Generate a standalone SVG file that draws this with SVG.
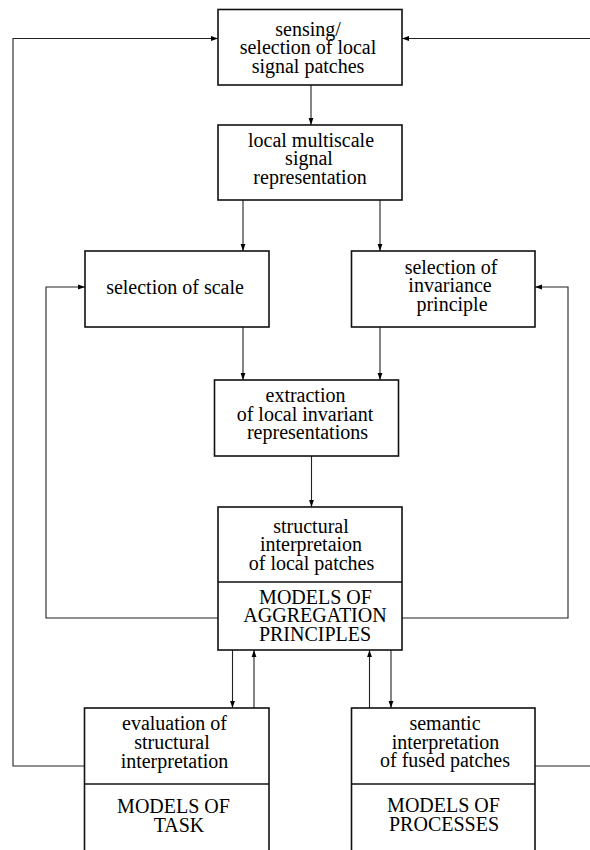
<svg xmlns="http://www.w3.org/2000/svg" width="590" height="850" viewBox="0 0 590 850">
<style>
  .box { fill: #fff; stroke: #111; stroke-width: 1.6; }
  .div { stroke: #111; stroke-width: 1.6; fill: none; }
  .c { fill: none; stroke: #222; stroke-width: 1.1; }
</style>
<defs>
  <marker id="ah" markerUnits="userSpaceOnUse" markerWidth="7" markerHeight="6" refX="7" refY="3" orient="auto">
    <path d="M0,0.6 L7,3 L0,5.4 z" fill="#000"/>
  </marker>
</defs>
<rect width="590" height="850" fill="#fff"/>
<g id="connectors">
  <path class="c" d="M84,766 H13 V38.5 H218" marker-end="url(#ah)"/>
  <path class="c" d="M535,766 H590"/>
  <path class="c" d="M590,38.5 H402" marker-end="url(#ah)"/>
  <path class="c" d="M311,85 V125" marker-end="url(#ah)"/>
  <path class="c" d="M243,200 V251" marker-end="url(#ah)"/>
  <path class="c" d="M380,200 V251" marker-end="url(#ah)"/>
  <path class="c" d="M243,327 V380" marker-end="url(#ah)"/>
  <path class="c" d="M380,327 V380" marker-end="url(#ah)"/>
  <path class="c" d="M311.5,456 V507" marker-end="url(#ah)"/>
  <path class="c" d="M218,618 H46 V287 H85" marker-end="url(#ah)"/>
  <path class="c" d="M402,618 H568 V287 H535" marker-end="url(#ah)"/>
  <path class="c" d="M232.5,650 V708" marker-end="url(#ah)"/>
  <path class="c" d="M254,708 V650" marker-end="url(#ah)"/>
  <path class="c" d="M369.5,708 V650" marker-end="url(#ah)"/>
  <path class="c" d="M391,650 V708" marker-end="url(#ah)"/>
</g>
<g text-anchor="middle" fill="#000">
<g id="sensing">
  <rect class="box" x="218" y="9.5" width="184" height="75.5"/>
  <text x="308" y="35.5" style="font-family:'Liberation Serif',serif;font-size:20px">sensing/</text>
  <text x="308" y="54" style="font-family:'Liberation Serif',serif;font-size:20px">selection of local</text>
  <text x="308" y="72.5" style="font-family:'Liberation Serif',serif;font-size:20px">signal patches</text>
</g>
<g id="multiscale">
  <rect class="box" x="218" y="125" width="184" height="75"/>
  <text x="311" y="146.5" style="font-family:'Liberation Serif',serif;font-size:20px">local multiscale</text>
  <text x="309" y="165" style="font-family:'Liberation Serif',serif;font-size:20px">signal</text>
  <text x="310" y="183.5" style="font-family:'Liberation Serif',serif;font-size:20px">representation</text>
</g>
<g id="scale">
  <rect class="box" x="85" y="251" width="184" height="76"/>
  <text x="175" y="294" style="font-family:'Liberation Serif',serif;font-size:20px">selection of scale</text>
</g>
<g id="invariance">
  <rect class="box" x="351.5" y="251" width="183.5" height="76"/>
  <text x="451" y="273.5" style="font-family:'Liberation Serif',serif;font-size:20px">selection of</text>
  <text x="450" y="292" style="font-family:'Liberation Serif',serif;font-size:20px">invariance</text>
  <text x="452" y="310.5" style="font-family:'Liberation Serif',serif;font-size:20px">principle</text>
</g>
<g id="extraction">
  <rect class="box" x="214.5" y="380" width="184" height="76"/>
  <text x="305.5" y="401.5" style="font-family:'Liberation Serif',serif;font-size:20px">extraction</text>
  <text x="305" y="420.5" style="font-family:'Liberation Serif',serif;font-size:20px">of local invariant</text>
  <text x="307.5" y="439" style="font-family:'Liberation Serif',serif;font-size:20px">representations</text>
</g>
<g id="structural">
  <rect class="box" x="218" y="507" width="184" height="143"/>
  <line class="div" x1="218" y1="582" x2="402" y2="582"/>
  <text x="311" y="532.5" style="font-family:'Liberation Serif',serif;font-size:20px">structural</text>
  <text x="311" y="551" style="font-family:'Liberation Serif',serif;font-size:20px">interpretaion</text>
  <text x="311.5" y="569.5" style="font-family:'Liberation Serif',serif;font-size:20px">of local patches</text>
  <text x="315.5" y="603.5" style="font-family:'Liberation Serif',serif;font-size:20px">MODELS OF</text>
  <text x="315" y="622" style="font-family:'Liberation Serif',serif;font-size:20px">AGGREGATION</text>
  <text x="315" y="640.5" style="font-family:'Liberation Serif',serif;font-size:20px">PRINCIPLES</text>
</g>
<g id="evaluation">
  <rect class="box" x="84.5" y="708" width="184.5" height="160"/>
  <line class="div" x1="84.5" y1="784" x2="269" y2="784"/>
  <text x="174.5" y="730" style="font-family:'Liberation Serif',serif;font-size:20px">evaluation of</text>
  <text x="172" y="749" style="font-family:'Liberation Serif',serif;font-size:20px">structural</text>
  <text x="174.5" y="767.5" style="font-family:'Liberation Serif',serif;font-size:20px">interpretation</text>
  <text x="173.5" y="812.5" style="font-family:'Liberation Serif',serif;font-size:20px">MODELS OF</text>
  <text x="179" y="831.5" style="font-family:'Liberation Serif',serif;font-size:20px">TASK</text>
</g>
<g id="semantic">
  <rect class="box" x="351.5" y="708" width="183.5" height="160"/>
  <line class="div" x1="351.5" y1="784" x2="535" y2="784"/>
  <text x="445" y="730" style="font-family:'Liberation Serif',serif;font-size:20px">semantic</text>
  <text x="445.5" y="748.5" style="font-family:'Liberation Serif',serif;font-size:20px">interpretation</text>
  <text x="445" y="767" style="font-family:'Liberation Serif',serif;font-size:20px">of fused patches</text>
  <text x="443.5" y="812" style="font-family:'Liberation Serif',serif;font-size:20px">MODELS OF</text>
  <text x="444" y="831" style="font-family:'Liberation Serif',serif;font-size:20px">PROCESSES</text>
</g>
</g>
</svg>
